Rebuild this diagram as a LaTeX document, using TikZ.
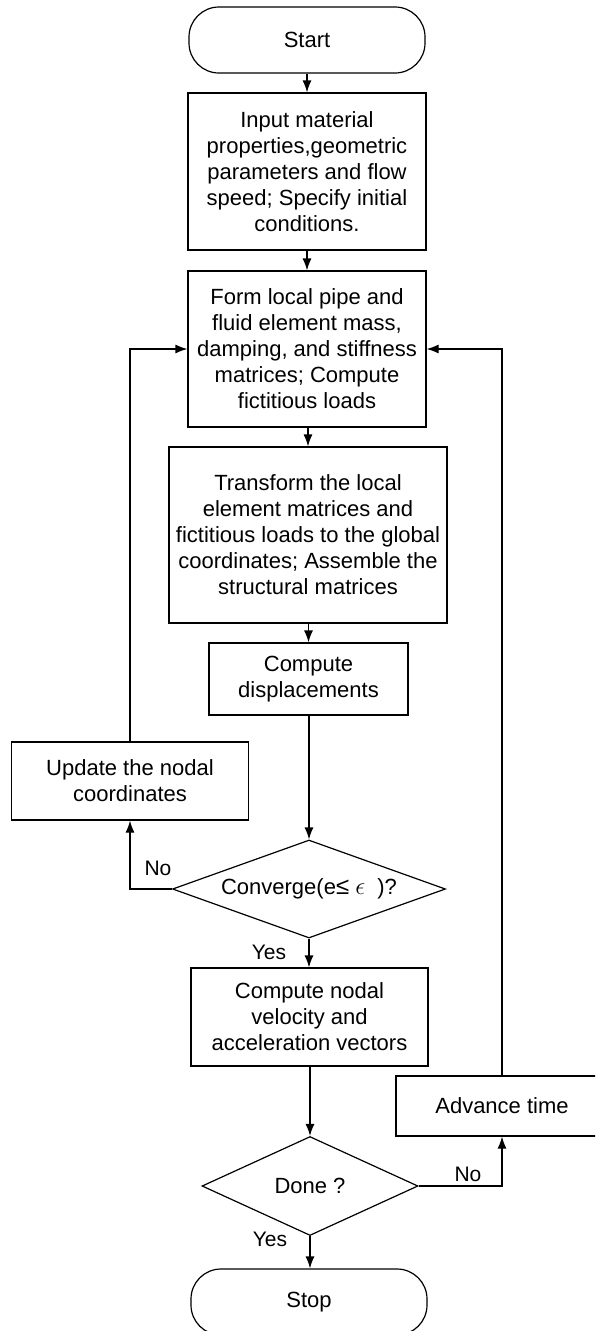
\documentclass[tikz,border=0pt]{standalone}
\usepackage{fontspec}
\setmainfont{Liberation Sans}
\usetikzlibrary{shapes.geometric,arrows.meta}
\begin{document}
\begin{tikzpicture}[x=1pt,y=-1pt,
  font=\fontsize{22}{26}\selectfont,
  every node/.style={align=center,inner sep=0pt},
  box/.style={draw,line width=1.2pt,rectangle},
  term/.style={draw,line width=1.2pt,rectangle,rounded corners=30pt,minimum width=236pt,minimum height=66pt},
  dec/.style={draw,line width=1.2pt,shape=diamond},
  arr/.style={line width=1.2pt,-{Latex[length=12pt,width=9pt]}},
  lbl/.style={font=\fontsize{21}{25}\selectfont}]
\useasboundingbox (0,0) rectangle (595,1331);
\clip (0,0) rectangle (595,1331);
\node[term] (start) at (307,40) {Start};
\node[box,minimum width=238pt,minimum height=157pt] (input) at (307,171.5)
  {Input material\\properties,geometric\\parameters and flow\\speed; Specify initial\\conditions.};
\node[box,minimum width=238pt,minimum height=156pt] (form) at (307,349)
  {Form local pipe and\\fluid element mass,\\damping, and stiffness\\matrices; Compute\\fictitious loads};
\node[box,minimum width=278pt,minimum height=176pt] (trans) at (308,535)
  {Transform the local\\element matrices and\\fictitious loads to the global\\coordinates; Assemble the\\structural matrices};
\node[box,minimum width=199pt,minimum height=72pt] (disp) at (308.5,679)
  {Compute\\displacements};
\node[box,minimum width=237pt,minimum height=78pt] (update) at (130,781)
  {Update the nodal\\coordinates};
\node[dec,minimum width=273pt,minimum height=98pt] (conv) at (309,889) {};
\node (convt) at (conv) {Converge(e{\fontsize{24}{26}\selectfont ≤} {\fontsize{26}{26}\selectfont$\epsilon$}\ \ )?};
\node[box,minimum width=237pt,minimum height=98pt] (nodal) at (309.5,1017)
  {Compute nodal\\velocity and\\acceleration vectors};
\node[box,minimum width=212pt,minimum height=60pt] (adv) at (502,1106)
  {Advance time};
\node[dec,minimum width=216pt,minimum height=99pt] (done) at (310,1186) {};
\node (donet) at (done) {Done ?};
\node[term] (stop) at (309,1302) {Stop};
\draw[arr] (start) -- (input);
\draw[arr] (input) -- (form);
\draw[arr] (form.south -| trans) -- (trans);
\draw[arr] (trans.south -| disp) -- (disp);
\draw[arr] (disp.south -| conv) -- (conv.north);
\draw[arr] (conv.south) -- (nodal.north -| conv.south);
\draw[arr] (conv.west) -| (update.south);
\draw[arr] (update.north) |- (form.west);
\draw[arr] (nodal.south -| done) -- (done.north);
\draw[arr] (done.east) -| (adv.south);
\draw[arr] (adv.north) |- (form.east);
\draw[arr] (done.south) -- (stop.north -| done.south);
\node[lbl] (no1) at (158,868) {No};
\node[lbl] (yes1) at (269,952) {Yes};
\node[lbl] (no2) at (468,1174) {No};
\node[lbl] (yes2) at (270,1239) {Yes};
\end{tikzpicture}
\end{document}
